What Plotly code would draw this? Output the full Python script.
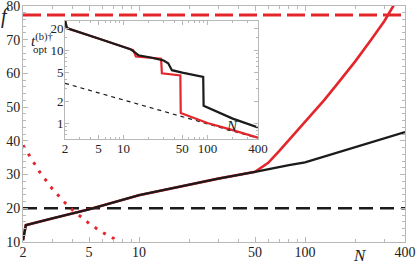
import plotly.graph_objects as go

# ---------------- data ----------------
# main panel
N_black = [2, 2.08, 3, 5, 10, 20, 30, 50, 60, 80, 100, 200, 400]
f_black = [10.5, 15.0, 17.0, 19.7, 23.9, 27.0, 28.8, 30.8, 31.6, 32.8, 33.6, 38.0, 42.6]

N_red = [2, 2.08, 3, 5, 10, 20, 30, 50, 60, 70, 80, 100, 130, 160, 200, 250, 300, 340, 370]
f_red = [10.5, 15.0, 17.0, 19.7, 23.9, 27.0, 28.8, 30.8, 33.5, 37.0, 40.2, 45.5, 52.0, 57.5,
         63.5, 70.0, 75.5, 80.0, 83.0]

N_dot = [2, 2.5, 3, 3.5, 4, 5, 6, 7, 7.5]
f_dot = [38.7, 31.0, 25.8, 22.1, 19.4, 15.5, 12.9, 11.1, 10.3]

N_hline = [2, 400]
f_red_limit = [77.3, 77.3]
f_black_limit = [20.0, 20.0]

x_ticks = [2, 5, 10, 50, 100, 400]
x_minor = [3, 4, 6, 7, 8, 9, 20, 30, 40, 60, 70, 80, 90, 200, 300]
y_ticks = [10, 20, 30, 40, 50, 60, 70, 80]

# inset
Ni_black = [2, 2.1, 5, 10, 12, 13.5, 15, 21, 30, 34, 37.7, 50, 89, 90, 200, 400]
ti_black = [26.0, 20.0, 14.4, 11.1, 10.3, 9.4, 8.5, 7.9, 7.2, 6.6, 5.3, 4.9, 4.3, 1.73, 1.15, 0.87]

Ni_red = [2, 2.1, 5, 10, 12, 13, 14, 21, 28, 28.6, 47.5, 48, 100, 200, 400]
ti_red = [26.0, 20.0, 14.4, 11.1, 10.4, 10.0, 8.2, 7.8, 7.6, 4.8, 4.5, 1.37, 1.0, 0.8, 0.63]

Ni_dash = [2, 400]
ti_dash = [3.5, 0.62]

xi_ticks = [2, 5, 10, 50, 100, 400]
yi_ticks = [1, 2, 5, 10, 20]
yi_minor = [0.7, 0.8, 0.9, 3, 4, 6, 7, 8, 9, 15]

RED = "#e3262c"
BLACK = "#1c1a1a"
AXC = "#b8b8b8"
FONT = "Liberation Serif"

fig = go.Figure()

# main traces
fig.add_trace(go.Scatter(x=N_hline, y=f_red_limit, mode="lines",
                         line=dict(color=RED, width=3, dash="18px,6px")))
fig.add_trace(go.Scatter(x=N_hline, y=f_black_limit, mode="lines",
                         line=dict(color=BLACK, width=2.6, dash="14px,7px")))
fig.add_trace(go.Scatter(x=N_dot, y=f_dot, mode="lines",
                         line=dict(color=RED, width=3, dash="3px,7px")))
fig.add_trace(go.Scatter(x=N_red, y=f_red, mode="lines",
                         line=dict(color=RED, width=2.6)))
fig.add_trace(go.Scatter(x=N_black, y=f_black, mode="lines",
                         line=dict(color=BLACK, width=2.4)))

# inset traces
fig.add_trace(go.Scatter(x=Ni_dash, y=ti_dash, mode="lines", xaxis="x2", yaxis="y2",
                         line=dict(color=BLACK, width=1.2, dash="4px,4px")))
fig.add_trace(go.Scatter(x=Ni_red, y=ti_red, mode="lines", xaxis="x2", yaxis="y2",
                         line=dict(color=RED, width=2.2)))
fig.add_trace(go.Scatter(x=Ni_black, y=ti_black, mode="lines", xaxis="x2", yaxis="y2",
                         line=dict(color=BLACK, width=2.2)))

common = dict(ticks="inside", tickcolor=AXC, showline=True, linecolor=AXC, linewidth=1,
              mirror="allticks", showgrid=False, zeroline=False, automargin=False,
              ticklabeloverflow="allow")

fig.update_layout(
    width=416, height=265,
    margin=dict(l=23, r=11, t=6, b=23, autoexpand=False),
    paper_bgcolor="white", plot_bgcolor="white",
    showlegend=False,
    font=dict(family=FONT, size=14, color="#222"),
    xaxis=dict(type="log", range=[0.30103, 2.60206], domain=[0, 1],
               tickmode="array", tickvals=x_ticks, ticktext=[str(v) for v in x_ticks],
               ticklen=5,
               minor=dict(tickmode="array", tickvals=x_minor, ticks="inside",
                          ticklen=3, tickcolor=AXC),
               tickfont=dict(size=14), ticklabelstandoff=-3, **common),
    yaxis=dict(range=[10, 80], domain=[0, 1],
               tickmode="array", tickvals=y_ticks, ticklen=5,
               minor=dict(dtick=2, ticks="inside", ticklen=3, tickcolor=AXC),
               tickfont=dict(size=14), ticklabelstandoff=-1, **common),
    xaxis2=dict(type="log", range=[0.30103, 2.60206], domain=[0.110, 0.615],
                anchor="y2", tickmode="array", tickvals=xi_ticks,
                ticktext=[str(v) for v in xi_ticks], ticklen=4,
                minor=dict(tickmode="array", tickvals=x_minor, ticks="inside",
                           ticklen=2, tickcolor=AXC),
                tickfont=dict(size=13), ticklabelstandoff=-3, **common),
    yaxis2=dict(type="log", range=[-0.22, 1.40], domain=[0.436, 0.937],
                anchor="x2", tickmode="array", tickvals=yi_ticks,
                ticktext=[str(v) for v in yi_ticks], ticklen=4,
                minor=dict(tickmode="array", tickvals=yi_minor,
                           ticks="inside", ticklen=2, tickcolor=AXC),
                tickfont=dict(size=13), ticklabelstandoff=-2, **common),
    annotations=[
        dict(text="<i>f</i>", x=0, y=1, xref="paper", yref="paper",
             xshift=-18, yshift=-10, showarrow=False, font=dict(size=20, color="#222"),
             xanchor="center", yanchor="middle"),
        dict(text="<i>N</i>", x=0.882, y=0, xref="paper", yref="paper",
             yshift=-13, showarrow=False, font=dict(size=17, color="#222"),
             xanchor="center", yanchor="middle"),
        dict(text="<i>t</i><sup>(b)†</sup>", x=0.0, y=0.856, xref="paper", yref="paper",
             xshift=19, showarrow=False, font=dict(size=15, color="#222"),
             xanchor="center", yanchor="middle"),
        dict(text="opt", x=0.0, y=0.818, xref="paper", yref="paper",
             xshift=17, showarrow=False, font=dict(size=11, color="#222"),
             xanchor="center", yanchor="middle"),
        dict(text="<i>N</i>", x=0.547, y=0.49, xref="paper", yref="paper",
             showarrow=False, font=dict(size=15, color="#222"),
             xanchor="center", yanchor="middle"),
    ],
)

fig.write_html("out.html", config={"displayModeBar": False},
               post_script="document.body.style.margin='0px';document.body.style.padding='0px';")
